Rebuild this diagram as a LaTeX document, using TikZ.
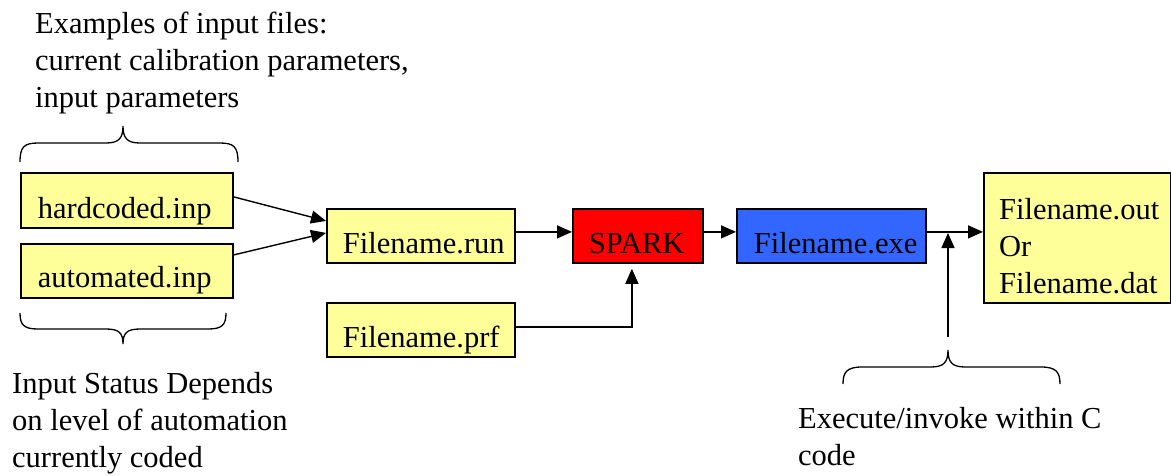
\documentclass[tikz,border=0pt]{standalone}
\usepackage{fontspec}
\setmainfont{Liberation Serif}
\usetikzlibrary{arrows.meta}
\definecolor{fileyellow}{HTML}{FFFF99}
\definecolor{sparkred}{HTML}{FF0000}
\definecolor{exeblue}{HTML}{3366FF}
\begin{document}
\begin{tikzpicture}[x=1pt,y=-1pt,
  txt/.style={font=\fontsize{30.5}{37}\selectfont, inner sep=0pt},
  filebox/.style={txt, draw=black, line width=1.8pt, anchor=north west,
    align=left, inner ysep=0pt},
  arr/.style={line width=1.4pt, -{Triangle[length=15pt,width=13pt]}},
  bracestyle/.style={line width=1.3pt}]
\useasboundingbox (0,0) rectangle (1171,475);

% input files
\node[filebox, fill=fileyellow, inner xsep=17pt, text width=178pt,
  text height=46pt, text depth=9pt] (hard) at (20,172) {hardcoded.inp};
\node[filebox, fill=fileyellow, inner xsep=17pt, text width=178pt,
  text height=44pt, text depth=10pt] (auto) at (20,243) {automated.inp};

% run / profile files
\node[filebox, fill=fileyellow, inner xsep=16pt, text width=156pt,
  text height=45pt, text depth=9pt] (run) at (326,208) {Filename.run};
\node[filebox, fill=fileyellow, inner xsep=16pt, text width=156pt,
  text height=45pt, text depth=9pt] (prf) at (326,302) {Filename.prf};

% SPARK and executable
\node[filebox, fill=sparkred, inner xsep=16pt, text width=98pt,
  text height=45pt, text depth=9pt] (spark) at (572,208) {SPARK};
\node[filebox, fill=exeblue, inner xsep=17pt, text width=155pt,
  text height=45pt, text depth=9pt] (exe) at (736,208) {Filename.exe};

% output file
\node[draw=black, line width=1.8pt, fill=fileyellow, anchor=north west,
  minimum width=187pt, minimum height=130pt, inner sep=0pt] (out) at (983,172) {};
\node[txt, anchor=base west, align=left] (outtxt) at (999,293)
  {Filename.out\\Or\\Filename.dat};

% connectors
\draw[arr] ([yshift=3.5pt]hard.east) -- ([yshift=15pt]run.west);
\draw[arr] ([yshift=16pt]auto.east) -- ([yshift=3pt]run.west);
\draw[arr] ([yshift=4pt]run.east) -- ([yshift=4pt]spark.west);
\draw[arr] ([yshift=4pt]spark.east) -- ([yshift=4pt]exe.west);
\draw[arr] ([yshift=4pt]exe.east) -- ([yshift=4pt]exe.east -| out.west);
\draw[arr, shorten >=5pt] ([yshift=3pt]prf.east) -| ([xshift=-6pt]spark.south);
\coordinate (invoke) at (948,337);
\coordinate (joinpt) at (948,233);
\draw[arr] (invoke) -- (joinpt);

% braces
\draw[bracestyle] (20,162) .. controls (20,147) and (24,143) .. (38,143) -- (106,143)
  .. controls (119,143) and (123,138) .. (123,126)
  .. controls (123,138) and (127,143) .. (140,143) -- (220,143)
  .. controls (234,143) and (238,147) .. (238,162);
\draw[bracestyle] (20,313) .. controls (20,325) and (24,329) .. (38,329) -- (106,329)
  .. controls (119,329) and (123,333) .. (123,344)
  .. controls (123,333) and (127,329) .. (140,329) -- (208,329)
  .. controls (222,329) and (226,325) .. (226,313);
\draw[bracestyle] (843,384) .. controls (843,372) and (847,367) .. (862,367) -- (931,367)
  .. controls (944,367) and (948,362) .. (948,350)
  .. controls (948,362) and (952,367) .. (965,367) -- (1041,367)
  .. controls (1056,367) and (1060,372) .. (1060,384);

% annotations
\node[txt, anchor=base west, align=left] (examples) at (35,107)
  {Examples of input files:\\current calibration parameters,\\input parameters};
\node[txt, anchor=base west, align=left] (status) at (12,467)
  {Input Status Depends\\on level of automation\\currently coded};
\node[txt, anchor=base west, align=left] (execnote) at (798,465)
  {Execute/invoke within C\\code};
\end{tikzpicture}
\end{document}
